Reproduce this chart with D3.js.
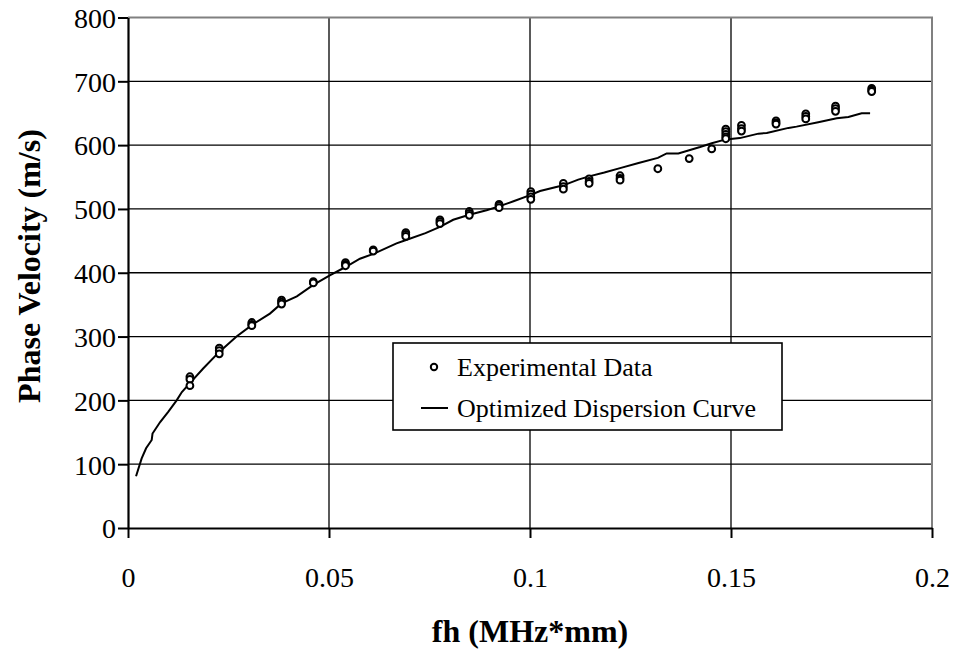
<!DOCTYPE html>
<meta charset="utf-8">
<script src="https://d3js.org/d3.v7.min.js"></script>
<style>
  body { margin: 0; background: #fff; }
  text { font-family: "Times New Roman", "Liberation Serif", serif; fill: #000; }
</style>
<svg id="chart" width="958" height="649"></svg>
<script>

// experimental data (fh, phase velocity) - several readings per frequency
var expX = [0.0154, 0.0154, 0.0154, 0.0227, 0.0227, 0.0227, 0.0308, 0.0308, 0.0308,
            0.0382, 0.0382, 0.0382, 0.0461, 0.0461, 0.0541, 0.0541, 0.0541, 0.0610, 0.0610,
            0.0691, 0.0691, 0.0691, 0.0776, 0.0776, 0.0776, 0.0849, 0.0849, 0.0849,
            0.0923, 0.0923, 0.0923, 0.1002, 0.1002, 0.1002, 0.1002,
            0.1083, 0.1083, 0.1083, 0.1147, 0.1147, 0.1147, 0.1224, 0.1224, 0.1224,
            0.1318, 0.1396, 0.1452, 0.1487, 0.1487, 0.1487, 0.1487, 0.1487,
            0.1526, 0.1526, 0.1526, 0.1612, 0.1612, 0.1612, 0.1686, 0.1686, 0.1686,
            0.1760, 0.1760, 0.1760, 0.1850, 0.1850, 0.1850];
var expY = [237, 233, 223, 282, 278, 273, 322, 319, 317,
            357, 354, 351, 386, 384, 416, 413, 411, 436, 434,
            463, 460, 457, 483, 480, 477, 496, 493, 490,
            507, 505, 502, 527, 523, 519, 515,
            540, 535, 531, 547, 543, 540, 552, 548, 545,
            563, 579, 594, 625, 621, 617, 613, 610,
            631, 626, 622, 638, 635, 633, 649, 645, 641,
            661, 657, 653, 689, 686, 684];

// optimized dispersion curve
var curveX = [0.0020, 0.0034, 0.0045, 0.0059, 0.0061, 0.0080, 0.0100, 0.0121, 0.0134, 0.0154,
              0.0187, 0.0227, 0.0270, 0.0308, 0.0353, 0.0382, 0.0420, 0.0461, 0.0502, 0.0541,
              0.0577, 0.0612, 0.0668, 0.0690, 0.0740, 0.0776, 0.0809, 0.0849, 0.0892, 0.0923,
              0.0959, 0.1002, 0.1025, 0.1083, 0.1120, 0.1147, 0.1185, 0.1224, 0.1270, 0.1318,
              0.1340, 0.1369, 0.1396, 0.1423, 0.1452, 0.1487, 0.1522, 0.1568, 0.1589, 0.1643,
              0.1663, 0.1717, 0.1763, 0.1792, 0.1825, 0.1846];
var curveY = [81, 109, 125, 138, 148, 166, 182, 200, 213, 227,
              250, 276, 300, 318, 336, 352, 363, 381, 396, 409,
              422, 430, 446, 451, 462, 472, 483, 491, 498, 504,
              512, 522, 528, 537, 546, 551, 557, 564, 572, 580,
              587, 587, 592, 597, 603, 609, 611, 618, 619, 627,
              629, 636, 642, 644, 650, 650];

var xTicks = [0, 0.05, 0.1, 0.15, 0.2];
var yTicks = [0, 100, 200, 300, 400, 500, 600, 700, 800];
var legendLabels = ["Experimental Data", "Optimized Dispersion Curve"];

var svg = d3.select("#chart");
var pLeft = 128, pRight = 932, pTop = 17.5, pBottom = 528;

var x = d3.scaleLinear().domain([0, 0.2]).range([pLeft, pRight]);
var y = d3.scaleLinear().domain([0, 800]).range([pBottom, pTop]);

// gridlines
var grid = svg.append("g");
grid.selectAll(".hg").data(yTicks.slice(1, -1)).enter().append("line")
  .attr("x1", pLeft).attr("x2", pRight)
  .attr("y1", d => y(d)).attr("y2", d => y(d))
  .attr("stroke", "#000").attr("stroke-width", 1.3);
grid.selectAll(".vg").data(xTicks.slice(1, -1)).enter().append("line")
  .attr("y1", pTop).attr("y2", pBottom)
  .attr("x1", d => x(d)).attr("x2", d => x(d))
  .attr("stroke", "#000").attr("stroke-width", 1.3);

// plot frame: top and right grey
svg.append("path")
  .attr("d", "M" + pLeft + "," + pTop + "H" + pRight + "V" + pBottom)
  .attr("fill", "none").attr("stroke", "#808080").attr("stroke-width", 2);

// axes
var xAxis = d3.axisBottom(x).tickValues(xTicks).tickSize(10).tickSizeOuter(0)
  .tickFormat(d => d === 0 ? "0" : String(d));
var yAxis = d3.axisLeft(y).tickValues(yTicks).tickSize(10).tickSizeOuter(0);

var gx = svg.append("g").attr("transform", "translate(0," + pBottom + ")").call(xAxis);
var gy = svg.append("g").attr("transform", "translate(" + pLeft + ",0)").call(yAxis);
[gx, gy].forEach(function(g) {
  g.select(".domain").attr("stroke", "#000").attr("stroke-width", 2.2);
  g.selectAll(".tick line").attr("stroke", "#000").attr("stroke-width", 2);
  g.selectAll(".tick text").attr("font-family", "'Times New Roman', 'Liberation Serif', serif")
    .attr("font-size", 28).attr("fill", "#000");
});
gx.selectAll(".tick text").attr("dy", 0).attr("y", 59);
gy.selectAll(".tick text").attr("x", -12).attr("dy", "0.35em");

// axis titles
svg.append("text")
  .attr("x", (pLeft + pRight) / 2).attr("y", 642)
  .attr("text-anchor", "middle").attr("font-weight", "bold").attr("font-size", 32)
  .text("fh (MHz*mm)");
svg.append("text")
  .attr("transform", "translate(40,266) rotate(-90)")
  .attr("text-anchor", "middle").attr("font-weight", "bold").attr("font-size", 32)
  .text("Phase Velocity (m/s)");

// curve
var line = d3.line().x(d => x(d[0])).y(d => y(d[1]));
svg.append("path")
  .datum(d3.zip(curveX, curveY))
  .attr("d", line)
  .attr("fill", "none").attr("stroke", "#000").attr("stroke-width", 2);

// experimental points
svg.append("g").selectAll("circle").data(d3.zip(expX, expY)).enter().append("circle")
  .attr("cx", d => x(d[0])).attr("cy", d => y(d[1]))
  .attr("r", 3.4)
  .attr("fill", "#fff").attr("stroke", "#000").attr("stroke-width", 2);

// legend
var lg = svg.append("g");
lg.append("rect").attr("x", 393).attr("y", 343).attr("width", 389).attr("height", 87)
  .attr("fill", "#fff").attr("stroke", "#000").attr("stroke-width", 1.6);
lg.append("circle").attr("cx", 434).attr("cy", 367).attr("r", 3.2)
  .attr("fill", "#fff").attr("stroke", "#000").attr("stroke-width", 2);
lg.append("line").attr("x1", 421).attr("x2", 448).attr("y1", 408).attr("y2", 408)
  .attr("stroke", "#000").attr("stroke-width", 2);
lg.selectAll(".lt").data(legendLabels).enter().append("text")
  .attr("x", 457).attr("y", (d, i) => 376 + i * 41)
  .attr("font-size", 26)
  .text(d => d);

</script>
